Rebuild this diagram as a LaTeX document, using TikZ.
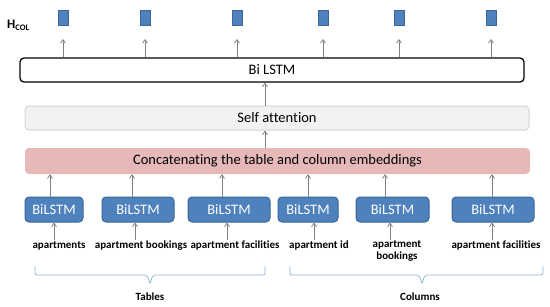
\documentclass[tikz,border=0pt]{standalone}
\usepackage{fontspec}
\setmainfont[Ligatures=NoCommon]{Carlito}
\usetikzlibrary{arrows.meta,calc}
\definecolor{boxblue}{HTML}{4F81BD}
\definecolor{boxblueborder}{HTML}{3A669B}
\definecolor{pinkfill}{HTML}{E6B9B8}
\definecolor{grayfill}{HTML}{F2F2F2}
\definecolor{grayborder}{HTML}{D4D4D4}
\definecolor{arrgray}{HTML}{808080}
\definecolor{bracecol}{HTML}{95B3D7}
\tikzset{
  bilstm/.style={draw=boxblueborder, fill=boxblue, line width=1pt, rounded corners=4pt,
    text=white, font=\fontsize{14.5}{16}\selectfont, minimum height=25pt, inner sep=0pt},
  wide/.style={rounded corners=4pt, minimum height=24pt, inner sep=0pt, font=\fontsize{14.5}{16}\selectfont},
  outbox/.style={draw=boxblueborder, fill=boxblue, line width=0.6pt, minimum width=10pt, minimum height=15pt, inner sep=0pt},
  lbl/.style={font=\bfseries\fontsize{11}{12}\selectfont, inner sep=0pt, anchor=base, align=center},
  arr/.style={draw=arrgray, line width=0.8pt, -{Straight Barb[length=3.5pt,width=5pt]}},
  brace/.style={draw=bracecol, line width=0.8pt, rounded corners=2pt}
}
\begin{document}
\begin{tikzpicture}[x=1pt,y=-1pt]
\useasboundingbox (0,0) rectangle (550,306);
% top output rectangles
\node[font=\bfseries\fontsize{13}{15}\selectfont, anchor=base west, inner sep=0pt] (hcol) at (7,28) {H\raisebox{-2.5pt}{\fontsize{8.5}{9}\selectfont COL}};
\foreach \i/\x in {1/63,2/145,3/237,4/323,5/399,6/491}{
  \node[outbox] (o\i) at (\x,17.5) {};
}
% Bi LSTM
\node[wide, draw=black, line width=1.3pt, fill=white, minimum width=504pt] (bi) at (272,70) {Bi LSTM};
% Self attention
\node[wide, draw=grayborder, line width=1pt, fill=grayfill, minimum width=504pt] (sa) at (277,118) {Self attention};
% Concatenating
\node[wide, fill=pinkfill, minimum width=505pt, minimum height=26pt] (cc) at (277.5,161) {Concatenating the table and column embeddings};
% BiLSTM boxes
\node[bilstm, minimum width=58pt] (b1) at (54,209.5) {BiLSTM};
\node[bilstm, minimum width=72pt] (b2) at (138,209.5) {BiLSTM};
\node[bilstm, minimum width=82pt] (b3) at (229,209.5) {BiLSTM};
\node[bilstm, minimum width=60pt] (b4) at (308,209.5) {BiLSTM};
\node[bilstm, minimum width=73pt] (b5) at (392.5,209.5) {BiLSTM};
\node[bilstm, minimum width=82pt] (b6) at (493,209.5) {BiLSTM};
% labels
\node[lbl] (l1) at (59,248.5) {apartments};
\node[lbl] (l2) at (141,248.5) {apartment bookings};
\node[lbl] (l3) at (235,248.5) {apartment facilities};
\node[lbl] (l4) at (319,248.5) {apartment id};
\node[lbl, anchor=north] (l5) at (397,240) {apartment\\bookings};
\node[lbl] (l6) at (496,248.5) {apartment facilities};
\node[lbl] (tab) at (150,300) {Tables};
\node[lbl] (col) at (420,300) {Columns};
% arrows label -> box
\draw[arr] (b1.south |- 0,240) -- (b1.south);
\draw[arr] ([xshift=-3pt]b2.south |- 0,240) -- ([xshift=-3pt]b2.south);
\draw[arr] ([xshift=-2pt]b3.south |- 0,240) -- ([xshift=-2pt]b3.south);
\draw[arr] ([xshift=6pt]b4.south |- 0,240) -- ([xshift=6pt]b4.south);
\draw[arr] ([xshift=-2.5pt]b5.south |- l5.north) -- ([xshift=-2.5pt]b5.south);
\draw[arr] ([xshift=-1pt]b6.south |- 0,240) -- ([xshift=-1pt]b6.south);
% arrows box -> concat
\foreach \i/\s in {1/-4,2/-6,3/-7,4/0,5/-7.5,6/-1}{
  \draw[arr] ([xshift=\s pt]b\i.north) -- ([xshift=\s pt]b\i.north |- cc.south);
}
% concat -> self attention -> bi lstm
\draw[arr] (cc.north -| 265,0) -- (sa.south -| 265,0);
\draw[arr] (sa.north -| 265,0) -- (bi.south -| 265,0);
% bi lstm -> outputs
\foreach \i in {1,...,6}{
  \coordinate (t\i) at (o\i.center |- 0,39);
  \draw[arr] (o\i |- bi.north) -- (t\i);
}
% braces
\draw[brace] (35,266) -- (35,275) -- (147,275) -- (150,283);
\draw[brace] (265,266) -- (265,275) -- (153,275) -- (150,283);
\draw[brace] (290,266) -- (290,275) -- (419,275) -- (422,283);
\draw[brace] (543,266) -- (543,275) -- (425,275) -- (422,283);
\end{tikzpicture}
\end{document}
